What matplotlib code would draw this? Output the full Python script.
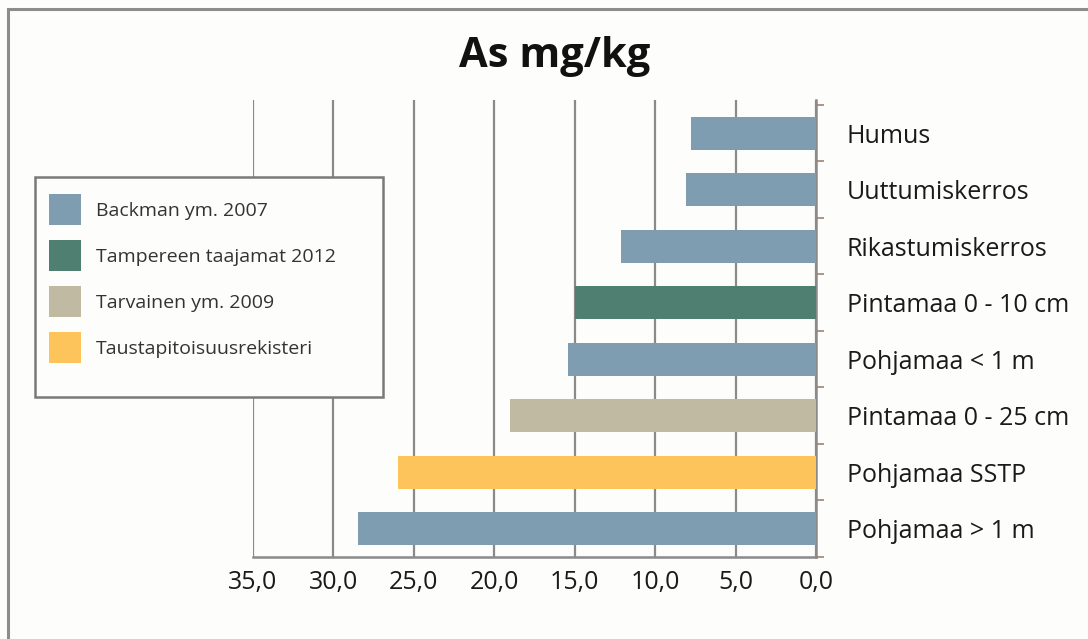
import matplotlib
matplotlib.use("Agg")
import matplotlib.pyplot as plt
from matplotlib.patches import Rectangle
from matplotlib.ticker import FixedLocator

# Arsenic concentrations (mg/kg) by soil layer / sampling, with source study
categories = ["Humus", "Uuttumiskerros", "Rikastumiskerros", "Pintamaa 0 - 10 cm",
              "Pohjamaa < 1 m", "Pintamaa 0 - 25 cm", "Pohjamaa SSTP", "Pohjamaa > 1 m"]
values = [7.8, 8.1, 12.1, 15.0, 15.4, 19.0, 26.0, 28.5]
sources = ["Backman ym. 2007", "Backman ym. 2007", "Backman ym. 2007",
           "Tampereen taajamat 2012", "Backman ym. 2007", "Tarvainen ym. 2009",
           "Taustapitoisuusrekisteri", "Backman ym. 2007"]
source_order = ["Backman ym. 2007", "Tampereen taajamat 2012",
                "Tarvainen ym. 2009", "Taustapitoisuusrekisteri"]
source_colors = ["#7f9db0", "#4e7f70", "#c1baa2", "#fdc45c"]
x_ticks = [35, 30, 25, 20, 15, 10, 5, 0]
x_tick_labels = ["35,0", "30,0", "25,0", "20,0", "15,0", "10,0", "5,0", "0,0"]

plt.rcParams["font.family"] = ["Open Sans", "DejaVu Sans"]

W, H = 1088, 639
fig = plt.figure(figsize=(W / 100, H / 100), dpi=100, facecolor="#fdfdfb")

# outer frame (only top and left edges fall inside the image)
fig.patches.append(Rectangle((8 / W, -1.0), 2.0, 2.0 - 9 / H, transform=fig.transFigure,
                             fill=False, edgecolor="#8c8c8c", linewidth=2.2))

ax = fig.add_axes([253 / W, 1 - 557 / H, (816 - 253) / W, (557 - 100) / H])
ax.set_facecolor("none")

positions = list(range(len(categories)))
for src, col in zip(source_order, source_colors):
    idx = [i for i, s in enumerate(sources) if s == src]
    ax.barh([positions[i] for i in idx], [values[i] for i in idx], height=0.58,
            color=col, label=src, zorder=3)

ax.set_xlim(35, 0)
ax.set_ylim(7.5, -0.588)

ax.set_xticks(x_ticks)
ax.set_xticklabels(x_tick_labels, fontsize=18, color="#1a1a1a")
ax.tick_params(axis="x", length=0, pad=9)
ax.grid(axis="x", color="#8a8a8a", linewidth=1.6, zorder=1)
ax.set_axisbelow(True)

ax.yaxis.tick_right()
ax.set_yticks(positions)
ax.set_yticklabels(categories, fontsize=18, color="#1a1a1a")
ax.tick_params(axis="y", which="major", length=0, pad=22)
ax.yaxis.set_minor_locator(FixedLocator([p - 0.5 for p in positions] + [7.5]))
ax.tick_params(axis="y", which="minor", right=True, left=False, length=6,
               width=1.2, color="#a5816f", direction="out")

for s in ["left", "top"]:
    ax.spines[s].set_visible(False)
for s in ["right", "bottom"]:
    ax.spines[s].set_color("#8a8a8a")
    ax.spines[s].set_linewidth(1.8)

fig.text(555 / W, 1 - 67 / H, "As mg/kg", fontsize=30, fontweight="bold",
         ha="center", va="baseline", color="#111111")

# legend box covering the grid
fig.patches.append(Rectangle((35 / W, 1 - 397 / H), (383 - 35) / W, (397 - 177) / H,
                             transform=fig.transFigure, facecolor="#fdfdfb",
                             edgecolor="#7a7a7a", linewidth=1.8, zorder=5))
handles, labels = ax.get_legend_handles_labels()
leg = fig.legend(handles, labels, loc="upper left", bbox_to_anchor=(49 / W, 1 - 194 / H),
                 frameon=False, fontsize=14,
                 handlelength=1.65, handleheight=2.08, handletextpad=0.75,
                 labelspacing=0.77, borderpad=0, borderaxespad=0)
leg.set_zorder(6)
for t in leg.get_texts():
    t.set_color("#333333")

fig.savefig("out.png", dpi=100, facecolor=fig.get_facecolor())
